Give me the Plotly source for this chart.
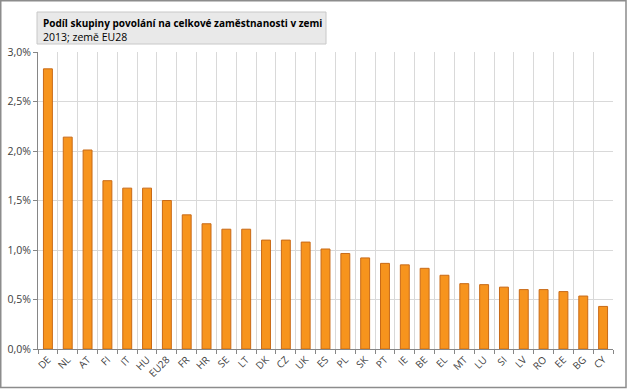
import plotly.graph_objects as go

countries = ["DE", "NL", "AT", "FI", "IT", "HU", "EU28", "FR", "HR", "SE", "LT", "DK", "CZ", "UK",
             "ES", "PL", "SK", "PT", "IE", "BE", "EL", "MT", "LU", "SI", "LV", "RO", "EE", "BG", "CY"]
values = [2.83, 2.14, 2.01, 1.70, 1.625, 1.625, 1.50, 1.355, 1.265, 1.21, 1.21, 1.10, 1.10, 1.08,
          1.01, 0.965, 0.92, 0.865, 0.85, 0.815, 0.745, 0.66, 0.65, 0.625, 0.60, 0.60, 0.58, 0.535, 0.43]
y_ticks = [0, 0.5, 1.0, 1.5, 2.0, 2.5, 3.0]
y_tick_labels = ["0,0%", "0,5%", "1,0%", "1,5%", "2,0%", "2,5%", "3,0%"]
title_text = "Podíl skupiny povolání na celkové zaměstnanosti v zemi"
subtitle_text = "2013; země EU28"

W, H = 627, 389
L, R, T, B = 38, 14, 52, 40
pw, ph = W - L - R, H - T - B

def px(x):
    return (x - L) / pw

def py(y):
    return (H - B - y) / ph

fig = go.Figure(go.Bar(
    x=countries, y=values,
    marker=dict(color="#F7941D", line=dict(color="#C86A17", width=1)),
    width=0.45,
))

fig.update_layout(
    width=W, height=H,
    margin=dict(l=L, r=R, t=T, b=B, autoexpand=False),
    paper_bgcolor="white", plot_bgcolor="white",
    showlegend=False,
    font=dict(family="Open Sans, Noto Sans, sans-serif", size=10, color="#404040"),
    xaxis=dict(
        type="category", tickson="boundaries", showgrid=True, gridcolor="#D9D9D9", gridwidth=1,
        ticks="outside", ticklen=4, tickcolor="#868686", tickangle=-45,
        showline=True, linecolor="#868686", linewidth=1,
        tickfont=dict(size=10, color="#404040"),
    ),
    yaxis=dict(
        range=[0, 3.0], tickvals=y_ticks, ticktext=y_tick_labels,
        showgrid=True, gridcolor="#D9D9D9", gridwidth=1,
        ticks="outside", ticklen=4, tickcolor="#868686",
        showline=True, linecolor="#868686", linewidth=1,
        tickfont=dict(size=10.5, color="#404040"), zeroline=False,
    ),
    shapes=[
        dict(type="rect", xref="paper", yref="paper",
             x0=px(0.75), x1=px(626), y0=py(387.5), y1=py(0.75),
             line=dict(color="#8C8C8C", width=1.5), fillcolor="rgba(0,0,0,0)"),
        dict(type="rect", xref="paper", yref="paper",
             x0=px(37), x1=px(326), y0=py(44), y1=py(12),
             line=dict(color="#C8C8C8", width=1), fillcolor="#E9E9E9"),
    ],
    annotations=[
        dict(xref="paper", yref="paper", x=px(41), y=py(14), xanchor="left", yanchor="top",
             text="<b>" + title_text + "</b>", showarrow=False,
             font=dict(size=10, color="#000000")),
        dict(xref="paper", yref="paper", x=px(41), y=py(28), xanchor="left", yanchor="top",
             text=subtitle_text, showarrow=False,
             font=dict(size=10.5, color="#000000")),
    ],
)

fig.write_html("out.html", config={"displayModeBar": False},
               post_script="document.body.style.margin='0';document.body.style.overflow='hidden';")
